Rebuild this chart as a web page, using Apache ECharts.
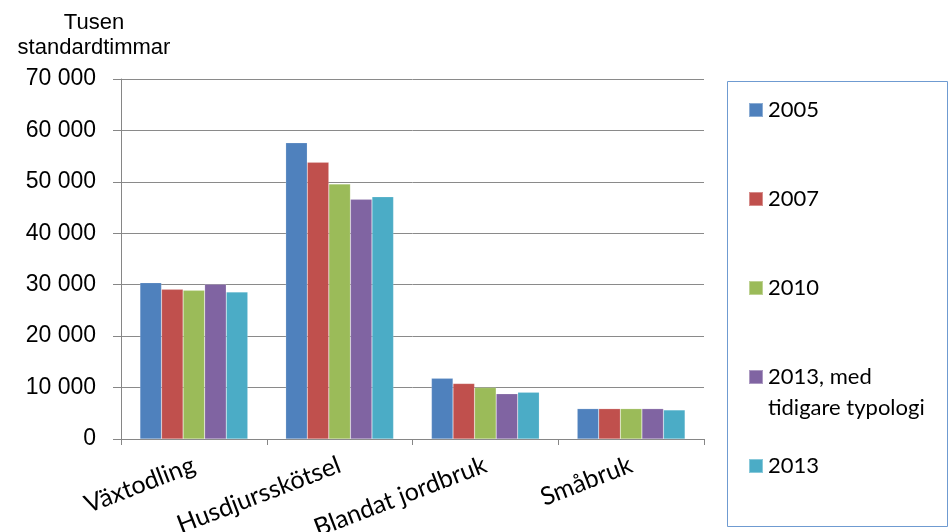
<!DOCTYPE html>
<html>
<head>
<meta charset="utf-8">
<script src="https://cdn.jsdelivr.net/npm/echarts@6/dist/echarts.min.js"></script>
<style>html,body{margin:0;padding:0;background:#fff}#c{width:950px;height:532px}</style>
</head>
<body>
<div id="c"></div>
<script>
const categories = ['Växtodling', 'Husdjursskötsel', 'Blandat jordbruk', 'Småbruk'];
const seriesNames = ['2005', '2007', '2010', '2013, med tidigare typologi', '2013'];
const v2005 = [30400, 57600, 11800, 5900];
const v2007 = [29100, 53800, 10800, 5900];
const v2010 = [28900, 49600, 10000, 5900];
const v2013old = [30100, 46600, 8800, 5900];
const v2013 = [28600, 47100, 9100, 5650];
const yTicks = [0, 10000, 20000, 30000, 40000, 50000, 60000, 70000];
const colors = ['#4F81BD', '#C0504D', '#9BBB59', '#8064A2', '#4BACC6'];
const allValues = [v2005, v2007, v2010, v2013old, v2013];

const legendCenters = [110, 199, 288, 377, 466];
const legendFont = 'Lato';

const chart = echarts.init(document.getElementById('c'));
const legends = seriesNames.map((n, i) => ({
  orient: 'vertical',
  left: 748,
  top: legendCenters[i] - 14,
  data: [n],
  itemWidth: 14,
  itemHeight: 14,
  itemGap: 0,
  padding: 0,
  selectedMode: false,
  icon: 'rect',
  formatter: i === 3 ? () => '2013, med' : undefined,
  textStyle: { fontFamily: legendFont, fontSize: 22, color: '#000', lineHeight: 28 }
}));

chart.setOption({
  animation: false,
  color: colors,
  grid: { left: 121, right: 246, top: 79, bottom: 93, containLabel: false, outerBoundsMode: 'none' },
  legend: legends,
  graphic: [{
    type: 'rect', shape: { x: 727.5, y: 81.5, width: 220, height: 445 },
    style: { fill: 'none', stroke: '#6f9bd1', lineWidth: 1 }, silent: true
  }, {
    type: 'text', left: 768, top: 408 - 14,
    style: { text: 'tidigare typologi', font: '22px Lato', fill: '#000', lineHeight: 28, verticalAlign: 'top' },
    silent: true
  }],
  xAxis: {
    type: 'category',
    data: categories,
    axisLine: { lineStyle: { color: '#868686', width: 1 } },
    axisTick: { show: true, length: 6, lineStyle: { color: '#868686' } },
    axisLabel: {
      rotate: 21, margin: 25, fontFamily: legendFont, fontSize: 25, color: '#000'
    }
  },
  yAxis: {
    type: 'value',
    min: 0, max: 70000, interval: 10000,
    name: 'Tusen\nstandardtimmar',
    nameLocation: 'end',
    nameGap: 19,
    nameTextStyle: {
      fontFamily: 'Liberation Sans', fontSize: 22, color: '#000', lineHeight: 25,
      align: 'center', padding: [0, 54, 0, 0]
    },
    axisLine: { show: true, lineStyle: { color: '#868686', width: 1 } },
    axisTick: { show: true, length: 8, inside: false, lineStyle: { color: '#868686' } },
    splitLine: { lineStyle: { color: '#8a8a8a', width: 1 } },
    axisLabel: {
      margin: 25, fontFamily: 'Liberation Sans', fontSize: 23, color: '#000',
      formatter: v => yTicks.includes(v) ? String(v).replace(/\B(?=(\d{3})+(?!\d))/g, ' ') : ''
    }
  },
  series: seriesNames.map((n, i) => ({
    name: n,
    type: 'bar',
    data: allValues[i],
    barGap: '0%',
    barCategoryGap: '26%',
    itemStyle: { color: colors[i], borderColor: 'rgba(255,255,255,0.35)', borderWidth: 0.5 }
  }))
});
</script>
</body>
</html>
